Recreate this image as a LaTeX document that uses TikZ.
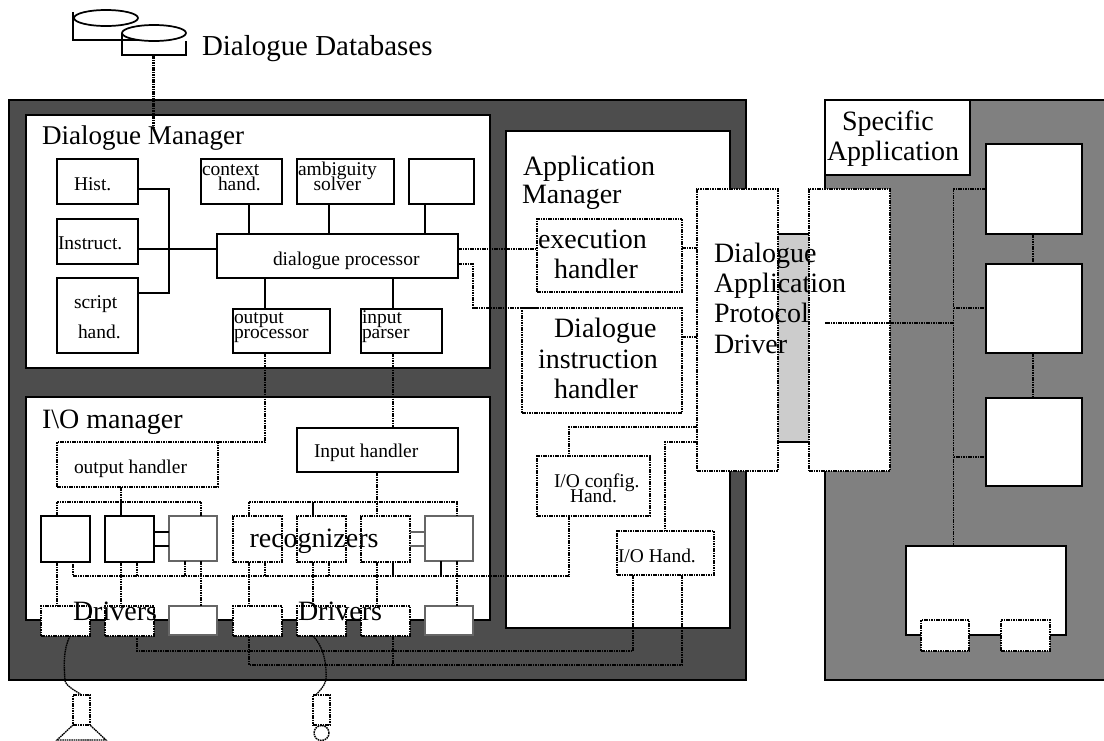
\documentclass[tikz,border=0pt]{standalone}
\usepackage{fontspec}
\setmainfont{Liberation Serif}
\usetikzlibrary{shapes.geometric}
\definecolor{darkpanel}{HTML}{4D4D4D}
\definecolor{midpanel}{HTML}{808080}
\definecolor{lightpanel}{HTML}{CCCCCC}
\tikzset{
  every node/.style={inner sep=0pt,outer sep=0pt},
  solidbox/.style={draw=black,fill=white,line width=1.3pt},
  heavybox/.style={draw=black,fill=white,line width=1.9pt},
  thinbox/.style={draw=black!60,fill=white,line width=0.8pt},
  dotbox/.style={draw=black,fill=white,line width=1.4pt,dash pattern=on 1.2pt off 0.6pt},
  panel/.style={draw=black,fill=white,line width=1.9pt},
  conn/.style={draw=black,line width=1.3pt},
  thickconn/.style={draw=black,line width=1.9pt},
  thinconn/.style={draw=black!60,line width=0.8pt},
  dotconn/.style={draw=black,line width=1.4pt,dash pattern=on 1.2pt off 0.6pt},
  wireconn/.style={draw=black,line width=1pt,dash pattern=on 1.2pt off 0.5pt},
  big/.style={anchor=base west,font=\fontsize{21}{21}\selectfont},
  small/.style={anchor=base west,font=\fontsize{14.6}{15}\selectfont},
}
% style, name, x1, y1, x2, y2 (pixels)
\newcommand{\bx}[6]{\node[#1,minimum width={(#5-#3)*0.75pt},minimum height={(#6-#4)*0.75pt}] (#2) at ({(#3+#5)/2},{(#4+#6)/2}) {};}
\newcommand{\vc}[4]{\draw[#1] (#2.south -| #4,0) -- (#3.north -| #4,0);}
\newcommand{\hc}[4]{\draw[#1] (#2.east |- 0,#4) -- (#3.west |- 0,#4);}
\begin{document}
\begin{tikzpicture}[x=0.75pt,y=-0.75pt]
\clip (0,0) rectangle (1104,740);
\fill[white] (0,0) rectangle (1104,740);
% panels
\bx{panel,fill=darkpanel}{outer}{9}{100}{746}{680}
\bx{panel,fill=midpanel}{apppanel}{825}{100}{1120}{680}
\bx{panel}{dm}{26}{115}{490}{368}
\bx{panel}{io}{26}{397}{490}{620}
\bx{panel}{am}{506}{131}{730}{628}
\bx{panel,line width=1.5pt}{spec}{825}{100}{970}{175}
\node[fill=lightpanel,minimum width={31*0.75pt},minimum height={208*0.75pt}] (proto) at (793.5,338) {};
\draw[thickconn] (proto.north west) -- (proto.north east) (proto.south west) -- (proto.south east);
% databases
\draw[thickconn,line width=1.3pt] (73,12) -- (73,40) -- (138,40);
\node[ellipse,draw=black,fill=white,line width=1.3pt,minimum width={64*0.75pt},minimum height={16*0.75pt}] (dbone) at (106,18) {};
\draw[thickconn,line width=1.3pt] (122,33) -- (122,55) -- (186,55) -- (186,41);
\node[ellipse,draw=black,fill=white,line width=1.3pt,minimum width={64*0.75pt},minimum height={16*0.75pt}] (dbtwo) at (154,33) {};
\coordinate (dbfoot) at (153.5,55);
\coordinate (dbend) at (153.5,128);
% dialogue manager boxes
\bx{solidbox}{hist}{57}{159}{138}{204}
\bx{solidbox}{instr}{57}{219}{138}{264}
\bx{solidbox}{script}{57}{278}{138}{353}
\bx{solidbox}{ctx}{201}{159}{282}{204}
\bx{solidbox}{amb}{297}{159}{394}{204}
\bx{solidbox}{blank}{409}{159}{474}{204}
\bx{solidbox}{dp}{217}{234}{458}{278}
\bx{solidbox}{op}{233}{309}{330}{353}
\bx{solidbox}{ip}{361}{309}{442}{353}
% application manager boxes
\bx{dotbox}{exec}{537}{219}{682}{292}
\bx{dotbox}{dih}{522}{308}{682}{413}
\bx{dotbox}{cfg}{537}{456}{650}{516}
\bx{dotbox}{ioh}{617}{531}{714}{575}
\bx{dotbox}{dapl}{697}{189}{778}{471}
\bx{dotbox}{dapr}{809}{189}{890}{471}
% I/O manager boxes
\bx{dotbox}{oh}{57}{442}{218}{487}
\bx{heavybox,line width=1.6pt}{ih}{297}{428}{458}{472}
\bx{heavybox}{ra}{41}{516}{90}{562}
\bx{heavybox}{rb}{105}{516}{154}{562}
\bx{thinbox}{rc}{169}{516}{217}{561}
\bx{dotbox}{rd}{233}{516}{282}{562}
\bx{dotbox}{re}{297}{516}{346}{562}
\bx{dotbox}{rf}{361}{516}{410}{562}
\bx{thinbox}{rg}{425}{516}{473}{561}
\bx{dotbox}{da}{41}{606}{90}{636}
\bx{dotbox}{db}{105}{606}{154}{636}
\bx{thinbox}{dc}{169}{606}{217}{635}
\bx{dotbox}{dd}{233}{606}{282}{636}
\bx{dotbox}{de}{297}{606}{346}{636}
\bx{dotbox}{df}{361}{606}{410}{636}
\bx{thinbox}{dg}{425}{606}{473}{635}
% specific application boxes
\bx{solidbox}{sa}{986}{144}{1082}{234}
\bx{solidbox}{sb}{986}{264}{1082}{353}
\bx{solidbox}{sc}{986}{398}{1082}{486}
\bx{solidbox}{sd}{906}{546}{1066}{635}
\bx{dotbox}{se}{921}{620}{969}{651}
\bx{dotbox}{sf}{1001}{620}{1050}{651}
% devices
\bx{dotbox,line width=1.1pt}{spk}{73}{695}{90}{725}
\bx{dotbox,line width=1.1pt}{mic}{313}{695}{330}{725}
\node[circle,dotbox,line width=1.1pt,minimum size={15*0.75pt}] (micball) at (321.5,733) {};
\draw[wireconn] (spk.south west) -- (57,740) -- (106,740) -- (spk.south east);
\draw[wireconn] (micball.north) -- (mic.south -| micball.north);
% solid connectors
\draw[conn] (hist.east |- 0,189) -| (169,249) |- (script.east |- 0,293);
\draw[conn] (instr.east |- 0,249) -- (dp.west |- 0,249);
\vc{conn}{ctx}{dp}{249}
\vc{conn}{amb}{dp}{329}
\vc{conn}{blank}{dp}{425}
\vc{conn}{dp}{op}{265}
\vc{conn}{dp}{ip}{393}
\hc{conn}{rb}{rc}{532}
\hc{conn}{rb}{rc}{546}
\hc{thinconn}{rf}{rg}{532}
\hc{thinconn}{rf}{rg}{546}
% dotted connectors
\draw[dotconn,line width=1.8pt] (dbfoot) -- (dbend);
\hc{dotconn}{dp}{exec}{249}
\draw[dotconn] (dp.east |- 0,264) -| (473,308) -- (dih.north west);
\draw[dotconn] (dih.north west) -- (exec.west |- dih.north);
\hc{dotconn}{exec}{dapl}{248}
\hc{dotconn}{dih}{dapl}{337}
\draw[dotconn] (dapl.west |- 0,427) -| (cfg.north -| 569,0);
\draw[dotconn] (dapl.west |- 0,442) -| (ioh.north -| 665,0);
\draw[dotconn] (cfg.south -| 569,0) |- (73,576) -- (ra.south -| 73,0);
\draw[dotconn] (ioh.south -| 633,0) |- (137,651) -- (db.south -| 137,0);
\draw[dotconn] (ioh.south -| 682,0) |- (249,665) -- (dd.south -| 249,0);
\draw[dotconn] (df.south -| 393,0) -- (393,665);
\draw[dotconn] (op.south -| 265,0) |- (oh.north east);
\vc{dotconn}{ip}{ih}{393}
\draw[dotconn] (oh.south -| 121,0) -- (121,502);
\draw[thickconn] (121,502) -- (rb.north -| 121,0);
\draw[dotconn] (ra.north -| 57,0) |- (201,502) -- (rc.north -| 201,0);
\draw[dotconn] (rd.north -| 249,0) |- (457,502) -- (rg.north -| 457,0);
\draw[thickconn] (313,502) -- (re.north -| 313,0);
\vc{dotconn}{ih}{rf}{377}
\vc{dotconn}{ra}{da}{57}
\vc{dotconn}{rb}{db}{121}
\vc{dotconn}{rc}{dc}{201}
\vc{dotconn}{rd}{dd}{249}
\vc{dotconn}{re}{de}{313}
\vc{dotconn}{rf}{df}{377}
\vc{dotconn}{rg}{dg}{457}
\draw[dotconn] (rb.south -| 137,0) -- (137,576);
\draw[dotconn] (rc.south -| 185,0) -- (185,576);
\draw[dotconn] (rd.south -| 265,0) -- (265,576);
\draw[dotconn] (re.south -| 329,0) -- (329,576);
\draw[thickconn] (rf.south -| 393,0) -- (393,576);
\draw[thickconn] (rg.south -| 441,0) -- (441,576);
\draw[wireconn] (da.south -| 70,0) .. controls (63,650) and (64,665) .. (65,681) .. controls (68,688) and (75,690) .. (spk.north);
\draw[wireconn] (de.south -| 313,0) .. controls (322,645) and (327,660) .. (326,680) .. controls (324,687) and (320,690) .. (mic.north -| 316,0);
\hc{dotconn}{dapr}{apppanel}{323}
\draw[dotconn] (sa.west |- 0,189) -| (sd.north -| 953.5,0);
\draw[dotconn] (953.5,308) -- (sb.west |- 0,308);
\draw[dotconn] (953.5,457) -- (sc.west |- 0,457);
\draw[dotconn] (dapr.east |- 0,323) -- (953.5,323);
\vc{dotconn}{sa}{sb}{1033}
\vc{dotconn}{sb}{sc}{1033}
% labels
\node[big,font=\fontsize{21.7}{22}\selectfont] (tdb) at (202,55) {Dialogue Databases};
\node[big,font=\fontsize{20.3}{21}\selectfont] (tdm) at (42,144) {Dialogue Manager};
\node[small] (thist) at (74,190) {Hist.};
\node[small] (tinstr) at (58,249) {Instruct.};
\node[small] (tscripta) at (74,308) {script};
\node[small] (tscriptb) at (78,338) {hand.};
\node[small] (tctxa) at (202,175) {context};
\node[small] (tctxb) at (218,190) {hand.};
\node[small] (tamba) at (298,175) {ambiguity};
\node[small] (tambb) at (313.5,190) {solver};
\node[small] (tdp) at (273,265) {dialogue processor};
\node[small] (topa) at (234,323) {output};
\node[small] (topb) at (234,338) {processor};
\node[small] (tipa) at (362,323) {input};
\node[small] (tipb) at (362,338) {parser};
\node[big] (tio) at (42,428) {I\textbackslash O manager};
\node[small] (toh) at (74,473) {output handler};
\node[small] (tih) at (314,457) {Input handler};
\node[big] (trec) at (249.5,547) {recognizers};
\node[big] (tdra) at (73,620.5) {Drivers};
\node[big] (tdrb) at (298,620.5) {Drivers};
\node[big] (tama) at (523,175) {Application};
\node[big] (tamb) at (522,203) {Manager};
\node[big] (texa) at (538,248) {execution};
\node[big] (texb) at (554,278) {handler};
\node[big] (tdia) at (554,337) {Dialogue};
\node[big] (tdib) at (538,368) {instruction};
\node[big] (tdic) at (554,398) {handler};
\node[small] (tcfa) at (554,487.5) {I/O config.};
\node[small] (tcfb) at (570,502) {Hand.};
\node[small] (tioh) at (618,562) {I/O Hand.};
\node[big] (tspa) at (842,130) {Specific};
\node[big] (tspb) at (827,160) {Application};
\node[big] (tpra) at (714,262) {Dialogue};
\node[big] (tprb) at (714,292) {Application};
\node[big] (tprc) at (714,322) {Protocol};
\node[big] (tprd) at (714,353) {Driver};
\end{tikzpicture}
\end{document}
